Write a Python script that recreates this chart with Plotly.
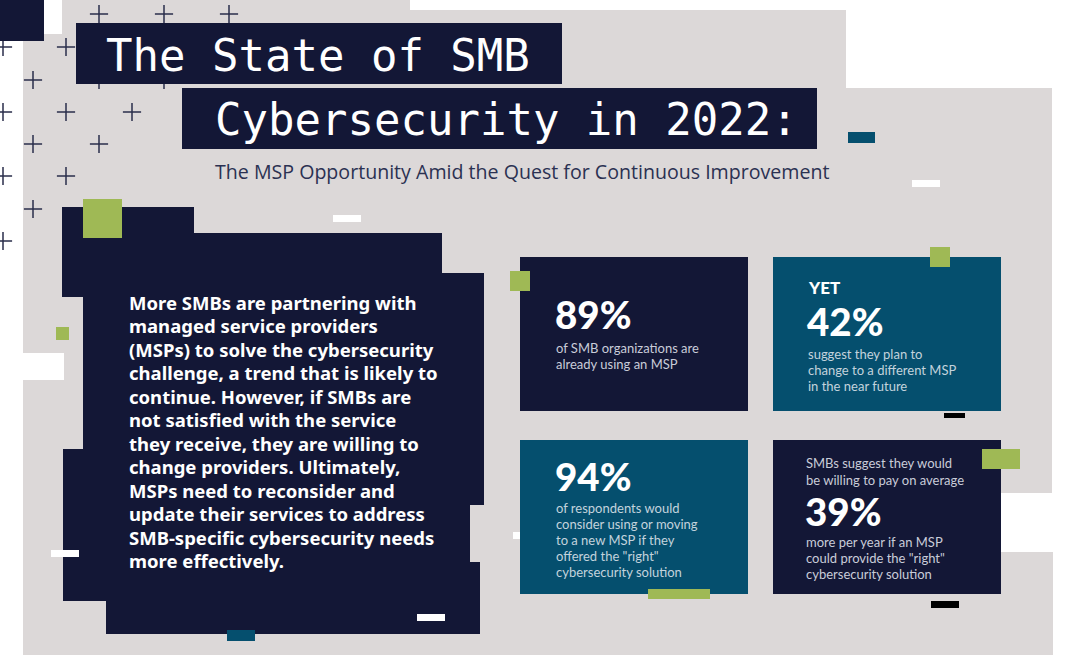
import plotly.graph_objects as go

# ---- data -------------------------------------------------------------
title_lines = ["The State of SMB", "Cybersecurity in 2022:"]
subtitle = "The MSP Opportunity Amid the Quest for Continuous Improvement"

body_lines = [
    "More SMBs are partnering with",
    "managed service providers",
    "(MSPs) to solve the cybersecurity",
    "challenge, a trend that is likely to",
    "continue. However, if SMBs are",
    "not satisfied with the service",
    "they receive, they are willing to",
    "change providers. Ultimately,",
    "MSPs need to reconsider and",
    "update their services to address",
    "SMB-specific cybersecurity needs",
    "more effectively.",
]

stat_values = [89, 42, 94, 39]
stat_lead = ["", "YET", "", "SMBs suggest they would|be willing to pay on average"]
stat_desc = [
    "of SMB organizations are|already using an MSP",
    "suggest they plan to|change to a different MSP|in the near future",
    "of respondents would|consider using or moving|to a new MSP if they|offered the \"right\"|cybersecurity solution",
    "more per year if an MSP|could provide the \"right\"|cybersecurity solution",
]

# ---- layout / style -----------------------------------------------------
W, H = 1068, 655
NAVY = "#131736"
TEAL = "#054f6e"
GREEN = "#9fb955"
GRAY = "#dcd8d8"
WHITE = "#ffffff"

card_x0 = [520, 773, 520, 773]
card_y0 = [257, 257, 440, 440]
card_w, card_h = 228, 154
card_color = [NAVY, TEAL, TEAL, NAVY]
text_dx = [35, 34, 35, 32]
lead_dy = [0, 30, 0, 23]
lead_step = 16.5
num_dy = [57, 64, 36, 71]
desc_dy = [91, 97, 68, 101.5]
desc_color = ["#c9ccd9", "#c3d3dd", "#c3d3dd", "#c9ccd9"]

cross_x = [99, 164, 229, 3, 66, 33, 99, 164, 3, 66, 132, 33, 99, 3, 66, 33, 3]
cross_y = [14, 14, 14, 47, 47, 80, 80, 80, 112, 112, 112, 144, 144, 176, 176, 209, 241]

shapes = []


def rect(x0, y0, x1, y1, color, layer="above"):
    shapes.append(dict(type="rect", x0=x0, y0=y0, x1=x1, y1=y1, xref="x", yref="y",
                       fillcolor=color, line_width=0, layer=layer))


def poly(points, color, layer="above"):
    path = "M " + " L ".join(f"{px},{py}" for px, py in points) + " Z"
    shapes.append(dict(type="path", path=path, xref="x", yref="y",
                       fillcolor=color, line_width=0, layer=layer))


# background
poly([(23, 34), (62, 34), (62, 0), (410, 0), (410, 10), (846, 10), (846, 88),
      (1052, 88), (1052, 493), (1001, 493), (1001, 552), (1053, 552), (1053, 655),
      (23, 655)], GRAY, layer="below")
rect(23, 353, 64, 380, WHITE, layer="below")

# title boxes
rect(0, 0, 44, 41, NAVY)
rect(76, 23, 562, 84, NAVY)
rect(182, 88, 817, 149, NAVY)

# main text box
poly([(62, 207), (194, 207), (194, 233), (442, 233), (442, 273), (484, 273),
      (484, 505), (470, 505), (470, 562), (480, 562), (480, 634), (106, 634),
      (106, 601), (63, 601), (63, 449), (83, 449), (83, 297), (62, 297)], NAVY)

# stat cards
for i in range(4):
    rect(card_x0[i], card_y0[i], card_x0[i] + card_w, card_y0[i] + card_h, card_color[i])

# decorations
rect(83, 199, 122, 238, GREEN)
rect(56, 327, 69, 340, GREEN)
rect(510, 271, 530, 291, GREEN)
rect(930, 247, 950, 267, GREEN)
rect(982, 449, 1020, 469, GREEN)
rect(648, 589, 710, 599, GREEN)
rect(333, 215, 361, 222, WHITE)
rect(912, 180, 940, 187, WHITE)
rect(51, 550, 79, 557, WHITE)
rect(417, 614, 445, 621, WHITE)
rect(513, 532, 520, 539, WHITE)
rect(848, 132, 875, 143, TEAL)
rect(227, 630, 255, 641, TEAL)
rect(944, 413, 965, 418, "#000000")
rect(931, 601, 959, 608, "#000000")

fig = go.Figure()

fig.add_trace(go.Scatter(
    x=cross_x, y=cross_y, mode="markers", hoverinfo="skip", showlegend=False,
    marker=dict(symbol="cross-thin", size=13, line=dict(width=1.5, color="#2a2e4b"))
))

ann = []
mono = "DejaVu Sans Mono"
sans = "Lato"
body_font = "Noto Sans"

ann.append(dict(x=105, y=55, text=title_lines[0], xanchor="left", yanchor="middle",
                font=dict(family=mono, size=44, color=WHITE)))
ann.append(dict(x=214, y=119, text=title_lines[1], xanchor="left", yanchor="middle",
                font=dict(family=mono, size=44, color=WHITE)))
ann.append(dict(x=214, y=171, text=subtitle, xanchor="left", yanchor="middle",
                font=dict(family="Open Sans", size=19.6, color="#2b3152")))

for k, line in enumerate(body_lines):
    ann.append(dict(x=128, y=302 + k * 23.5, text=line, xanchor="left", yanchor="middle",
                    font=dict(family=body_font, size=18.5, color=WHITE, weight="bold")))

for i in range(4):
    tx = card_x0[i] + text_dx[i]
    if stat_lead[i] == "YET":
        ann.append(dict(x=tx, y=card_y0[i] + lead_dy[i], text=stat_lead[i], xanchor="left",
                        yanchor="middle", font=dict(family=sans, size=17, color=WHITE, weight=900)))
    elif stat_lead[i]:
        for k, line in enumerate(stat_lead[i].split("|")):
            ann.append(dict(x=tx, y=card_y0[i] + lead_dy[i] + k * lead_step, text=line,
                            xanchor="left", yanchor="middle",
                            font=dict(family=sans, size=13, color=desc_color[i])))
    ann.append(dict(x=tx - 1, y=card_y0[i] + num_dy[i], text=f"{stat_values[i]}%",
                    xanchor="left", yanchor="middle",
                    font=dict(family=sans, size=38.5, color=WHITE, weight=900)))
    for k, line in enumerate(stat_desc[i].split("|")):
        ann.append(dict(x=tx, y=card_y0[i] + desc_dy[i] + k * 16, text=line,
                        xanchor="left", yanchor="middle",
                        font=dict(family=sans, size=13, color=desc_color[i])))

for a in ann:
    a.update(xref="x", yref="y", showarrow=False, align="left", borderpad=0)

fig.update_layout(
    width=W, height=H,
    margin=dict(l=0, r=0, t=0, b=0),
    paper_bgcolor=WHITE, plot_bgcolor=WHITE,
    xaxis=dict(range=[0, W], visible=False, fixedrange=True),
    yaxis=dict(range=[H, 0], visible=False, fixedrange=True),
    shapes=shapes, annotations=ann, showlegend=False,
)

fig.write_html("out.html", config={"displayModeBar": False},
               post_script="document.body.style.margin='0';")
